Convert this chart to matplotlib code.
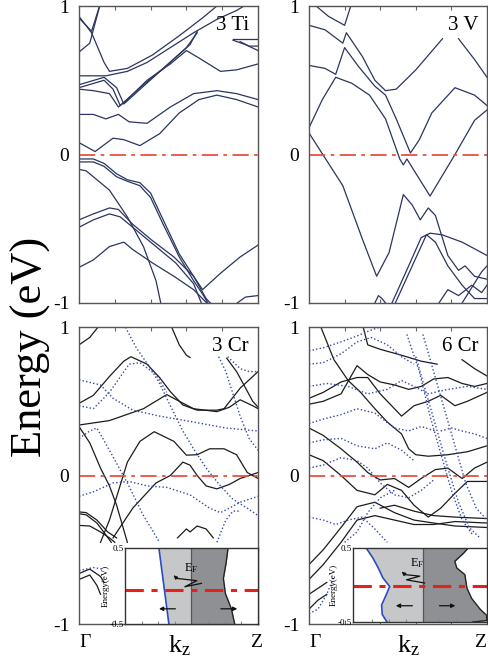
import matplotlib
matplotlib.use("Agg")
import matplotlib.pyplot as plt

plt.rcParams['font.family'] = ['Liberation Serif', 'DejaVu Serif']
plt.rcParams['mathtext.fontset'] = 'custom'
plt.rcParams['mathtext.rm'] = 'Liberation Serif'
plt.rcParams['mathtext.it'] = 'Liberation Serif:italic'

# ---------------------- Data (k along Gamma-Z, energy in eV) ---------------------- #
ti_bands = [
    [(0, -0.03), (0.08, -0.03), (0.14, -0.06), (0.21, -0.13), (0.27, -0.17), (0.34, -0.19), (0.40, -0.26),
     (0.47, -0.44), (0.56, -0.67), (0.64, -0.82), (0.69, -0.91), (0.79, -0.80), (0.90, -0.69), (1.0, -0.61)],
    [(0, -0.05), (0.08, -0.05), (0.14, -0.08), (0.21, -0.15), (0.27, -0.18), (0.34, -0.21), (0.40, -0.29),
     (0.47, -0.47), (0.56, -0.69), (0.64, -0.85), (0.69, -0.94), (0.73, -1.02)],
    [(0, -0.10), (0.04, -0.11), (0.17, -0.24), (0.27, -0.42), (0.36, -0.62), (0.43, -0.85), (0.46, -1.02)],
    [(0, -0.44), (0.08, -0.40), (0.17, -0.36), (0.22, -0.37), (0.30, -0.47), (0.41, -0.58), (0.53, -0.69),
     (0.64, -0.82), (0.71, -0.97), (0.75, -1.02)],
    [(0, -0.49), (0.08, -0.44), (0.17, -0.40), (0.23, -0.42), (0.32, -0.51), (0.43, -0.62), (0.54, -0.73),
     (0.64, -0.87), (0.69, -1.02)],
    [(0, -0.76), (0.08, -0.71), (0.17, -0.62), (0.25, -0.59), (0.30, -0.64), (0.41, -0.73), (0.53, -0.82),
     (0.64, -0.91), (0.73, -1.02)],
    [(0.86, -1.02), (0.93, -0.96), (1.0, -0.95)],
    [(0, 0.08), (0.09, 0.02), (0.19, 0.11), (0.25, 0.10), (0.34, 0.06), (0.45, 0.14), (0.56, 0.28),
     (0.67, 0.37), (0.77, 0.40), (0.88, 0.37), (1.0, 0.32)],
    [(0, 0.27), (0.08, 0.27), (0.15, 0.24), (0.22, 0.27), (0.28, 0.22), (0.38, 0.21), (0.51, 0.32),
     (0.64, 0.41), (0.77, 0.43), (0.88, 0.41), (1.0, 0.37)],
    [(0, 0.44), (0.08, 0.43), (0.17, 0.41), (0.22, 0.32), (0.27, 0.37), (0.38, 0.50), (0.51, 0.61),
     (0.60, 0.70), (0.67, 0.65), (0.79, 0.56), (0.88, 0.57), (1.0, 0.61)],
    [(0, 0.45), (0.14, 0.50), (0.19, 0.44), (0.23, 0.33), (0.34, 0.45), (0.47, 0.58), (0.60, 0.72), (0.66, 0.82)],
    [(0, 0.47), (0.14, 0.52), (0.21, 0.45), (0.25, 0.34), (0.36, 0.46), (0.49, 0.60), (0.62, 0.74), (0.66, 0.83)],
    [(0, 0.53), (0.15, 0.53), (0.27, 0.56), (0.38, 0.62), (0.51, 0.72), (0.64, 0.82), (0.77, 0.91),
     (0.88, 0.97), (0.95, 1.02)],
    [(0, 0.93), (0.07, 0.82), (0.14, 0.62), (0.17, 0.56), (0.27, 0.58), (0.41, 0.67), (0.56, 0.80),
     (0.69, 0.92), (0.79, 1.02)],
    [(0, 0.92), (0.07, 0.83), (0.12, 1.02)],
    [(0, 0.69), (0.06, 0.75), (0.12, 1.02)],
    [(0.86, 0.78), (0.93, 0.78), (1.0, 0.78)],
    [(0.86, 0.77), (0.93, 0.74), (1.0, 0.70)],
    [(0.90, 0.76), (0.95, 0.73), (1.0, 0.73)],
]

v_bands = [
    [(0.04, 1.0), (0.11, 0.93), (0.20, 0.87), (0.24, 1.02)],
    [(0, 0.87), (0.09, 0.84), (0.19, 0.75), (0.21, 0.82), (0.30, 0.66), (0.37, 0.50), (0.43, 0.43),
     (0.49, 0.44), (0.60, 0.57), (0.75, 0.78)],
    [(0, 0.60), (0.09, 0.58), (0.15, 0.54), (0.20, 0.72), (0.28, 0.59), (0.37, 0.46), (0.43, 0.40),
     (0.49, 0.24), (0.57, 0.01), (0.62, 0.10), (0.69, 0.28), (0.82, 0.45), (0.93, 0.40), (1.0, 0.33)],
    [(0.84, 0.78), (0.93, 0.64), (1.0, 0.52)],
    [(0, 0.18), (0.075, 0.37), (0.15, 0.52), (0.24, 0.48), (0.34, 0.40), (0.43, 0.24), (0.51, -0.03),
     (0.53, -0.07), (0.55, -0.03), (0.68, -0.28), (0.82, 0.0), (0.93, 0.23), (1.0, 0.30)],
    [(0, 0.145), (0.19, -0.21), (0.30, -0.57), (0.38, -0.82), (0.45, -0.66), (0.53, -0.27), (0.58, -0.34),
     (0.625, -0.44), (0.67, -0.36), (0.71, -0.41), (0.78, -0.68), (0.84, -0.78), (0.877, -0.75),
     (0.93, -0.82), (1.0, -0.84)],
    [(0.466, -1.0), (0.56, -0.75), (0.63, -0.56), (0.68, -0.53), (0.746, -0.54), (0.86, -0.59), (1.0, -0.68)],
    [(0.485, -1.0), (0.58, -0.75), (0.66, -0.54), (0.71, -0.59), (0.78, -0.75), (0.86, -0.88),
     (0.93, -0.97), (1.0, -0.97)],
    [(0.37, -1.0), (0.39, -0.95), (0.41, -0.97), (0.43, -1.0)],
    [(0.73, -1.0), (0.78, -0.91), (0.84, -0.95), (0.914, -0.88), (0.97, -0.93), (1.0, -0.88)],
    [(0.86, -1.0), (0.97, -0.79), (1.0, -0.75)],
]

cr3_solid = [
    [(0, 0.88), (0.06, 0.93), (0.12, 1.02)],
    [(0.51, 1.02), (0.56, 0.88), (0.60, 0.81), (0.62, 0.795)],
    [(0, 0.486), (0.08, 0.54), (0.17, 0.667), (0.25, 0.77), (0.29, 0.80), (0.38, 0.75), (0.45, 0.66),
     (0.51, 0.565), (0.58, 0.475), (0.66, 0.44), (0.77, 0.44), (0.81, 0.45), (0.90, 0.588), (1.0, 0.70)],
    [(0.825, 0.79), (0.88, 0.70), (0.93, 0.59), (0.97, 0.50), (1.0, 0.46)],
    [(0, 0.34), (0.17, 0.37), (0.36, 0.45), (0.49, 0.545), (0.56, 0.50), (0.64, 0.45), (0.77, 0.43),
     (0.84, 0.46), (0.90, 0.51), (0.97, 0.47), (1.0, 0.45)],
    [(0, 0.33), (0.06, 0.22), (0.12, 0.05), (0.17, -0.07), (0.21, -0.20), (0.27, -0.45)],
    [(0.12, -0.45), (0.17, -0.30), (0.27, 0.09), (0.34, 0.23), (0.42, 0.295), (0.53, 0.23), (0.60, 0.137),
     (0.66, 0.14), (0.73, 0.18), (0.81, 0.18), (0.88, 0.14), (0.94, 0.02), (1.0, -0.02)],
    [(0.19, -0.42), (0.30, -0.22), (0.43, -0.05), (0.51, 0.0), (0.58, 0.09), (0.62, 0.07), (0.66, 0.0),
     (0.71, -0.07), (0.77, -0.09), (0.84, -0.06), (0.90, -0.02), (0.95, 0.0), (1.0, 0.02)],
    [(0, -0.245), (0.04, -0.25), (0.10, -0.30), (0.16, -0.38), (0.21, -0.42)],
    [(0, -0.257), (0.04, -0.265), (0.10, -0.32), (0.15, -0.40), (0.18, -0.45)],
    [(0, -0.336), (0.06, -0.34), (0.12, -0.38), (0.17, -0.42), (0.20, -0.45)],
    [(0.55, -0.42), (0.60, -0.36), (0.62, -0.38), (0.66, -0.34), (0.71, -0.36), (0.75, -0.42)],
    [(0, -0.66), (0.06, -0.63), (0.12, -0.68), (0.14, -0.72)],
    [(0, -0.70), (0.06, -0.67), (0.10, -0.74), (0.12, -0.80)],
]

cr3_dotted = [
    [(0.25, 1.02), (0.32, 0.86), (0.40, 0.72), (0.45, 0.62), (0.51, 0.47), (0.58, 0.30), (0.64, 0.18),
     (0.71, 0.05), (0.79, -0.07), (0.86, -0.16), (0.94, -0.22), (1.0, -0.27)],
    [(0, 0.644), (0.12, 0.61), (0.19, 0.52), (0.30, 0.44), (0.45, 0.40), (0.64, 0.36), (0.82, 0.32), (1.0, 0.30)],
    [(0, 0.47), (0.08, 0.45), (0.17, 0.56), (0.28, 0.75), (0.34, 0.76), (0.43, 0.68), (0.49, 0.56)],
    [(0, 0.25), (0.06, 0.30), (0.10, 0.32), (0.17, 0.17), (0.27, -0.05), (0.36, -0.27), (0.45, -0.45)],
    [(0, -0.14), (0.08, -0.11), (0.19, -0.05), (0.28, -0.04), (0.38, -0.07), (0.49, -0.08), (0.62, -0.13),
     (0.73, -0.22), (0.79, -0.25), (0.84, -0.22), (0.90, -0.18), (1.0, -0.14)],
    [(0.78, 0.80), (0.82, 0.70), (0.86, 0.55), (0.90, 0.40), (0.95, 0.25), (1.0, 0.17)],
    [(0.83, 0.80), (0.90, 0.72), (0.95, 0.70), (1.0, 0.70)],
    [(0.77, -0.45), (0.82, -0.30), (0.86, -0.24), (0.90, -0.24)],
    [(0, -0.64), (0.08, -0.62), (0.13, -0.63)],
]

cr6_solid = [
    [(0.06, 1.02), (0.14, 0.78), (0.22, 0.64), (0.29, 0.56), (0.37, 0.45), (0.44, 0.36), (0.52, 0.28),
     (0.56, 0.18), (0.60, 0.14), (0.67, 0.13), (0.78, 0.14), (0.89, 0.16), (1.0, 0.20)],
    [(0.30, 1.02), (0.33, 0.88), (0.40, 0.85), (0.52, 0.81), (0.63, 0.77), (0.72, 0.75)],
    [(0, 0.52), (0.08, 0.56), (0.18, 0.63), (0.27, 0.66), (0.33, 0.66), (0.40, 0.55), (0.48, 0.45),
     (0.52, 0.40), (0.59, 0.47), (0.67, 0.50), (0.74, 0.54), (0.82, 0.47), (0.89, 0.50), (1.0, 0.56)],
    [(0, 0.48), (0.08, 0.50), (0.18, 0.55), (0.27, 0.74), (0.33, 0.68), (0.40, 0.63), (0.48, 0.61),
     (0.56, 0.58), (0.63, 0.60), (0.70, 0.65), (0.78, 0.66), (0.86, 0.62), (0.93, 0.60), (1.0, 0.62)],
    [(0, 0.32), (0.08, 0.27), (0.18, 0.18), (0.27, 0.09), (0.33, 0.02), (0.40, -0.03), (0.48, -0.02),
     (0.56, -0.08), (0.63, -0.02), (0.71, 0.04), (0.78, 0.05), (0.86, -0.02), (0.93, 0.05), (1.0, 0.09)],
    [(0, 0.14), (0.08, 0.10), (0.18, 0.0), (0.27, -0.10), (0.37, -0.13), (0.44, -0.06), (0.52, -0.10),
     (0.59, -0.20), (0.67, -0.28), (0.74, -0.22), (0.82, -0.12), (0.89, -0.04), (1.0, -0.04)],
    [(0, -0.70), (0.08, -0.60), (0.18, -0.45), (0.27, -0.30), (0.37, -0.27), (0.48, -0.30), (0.59, -0.33),
     (0.70, -0.33), (0.82, -0.31), (1.0, -0.32)],
    [(0, -0.60), (0.08, -0.50), (0.18, -0.35), (0.27, -0.21), (0.37, -0.18), (0.48, -0.25), (0.59, -0.30),
     (0.70, -0.32), (0.82, -0.34), (1.0, -0.35)],
    [(0.40, -0.22), (0.48, -0.20), (0.59, -0.24), (0.70, -0.27), (0.82, -0.28), (1.0, -0.29)],
    [(0.86, 0.78), (0.93, 0.72), (1.0, 0.67)],
    [(0, -0.90), (0.05, -0.84), (0.10, -0.80)],
    [(0, -0.80), (0.05, -0.76), (0.10, -0.72)],
]

cr6_dotted = [
    [(0, 0.84), (0.08, 0.86), (0.18, 0.90), (0.27, 0.94), (0.35, 0.98), (0.40, 1.0)],
    [(0, 0.75), (0.08, 0.76), (0.18, 0.82), (0.27, 0.90), (0.35, 0.93), (0.44, 0.88), (0.52, 0.80), (0.59, 0.75)],
    [(0, 0.60), (0.10, 0.62), (0.22, 0.60), (0.33, 0.55), (0.44, 0.58), (0.52, 0.64), (0.59, 0.60),
     (0.67, 0.55), (0.78, 0.58), (0.89, 0.60), (1.0, 0.58)],
    [(0, 0.35), (0.08, 0.38), (0.18, 0.41), (0.27, 0.45), (0.37, 0.42), (0.48, 0.32), (0.56, 0.30),
     (0.63, 0.33), (0.71, 0.30)],
    [(0, 0.22), (0.08, 0.24), (0.18, 0.25), (0.27, 0.20), (0.37, 0.18), (0.44, 0.22), (0.52, 0.17), (0.59, 0.10)],
    [(0, 0.05), (0.08, 0.07), (0.18, 0.12), (0.27, 0.10), (0.33, 0.05), (0.40, -0.05), (0.48, -0.13),
     (0.56, -0.15), (0.63, -0.10), (0.70, -0.03)],
    [(0, -0.28), (0.08, -0.30), (0.15, -0.33), (0.22, -0.30), (0.30, -0.28), (0.37, -0.36), (0.44, -0.45)],
    [(0.55, 0.95), (0.62, 0.70), (0.68, 0.40), (0.74, 0.15), (0.80, -0.10), (0.86, -0.30), (0.92, -0.40)],
    [(0.60, 0.80), (0.66, 0.55), (0.72, 0.30), (0.78, 0.05), (0.84, -0.18), (0.90, -0.35), (0.96, -0.42)],
    [(0.64, 0.95), (0.70, 0.70), (0.76, 0.45), (0.82, 0.20), (0.88, -0.05), (0.94, -0.22), (1.0, -0.30)],
    [(0.20, -0.45), (0.27, -0.38), (0.33, -0.25), (0.40, -0.15), (0.48, -0.10)],
    [(0, -0.93), (0.05, -0.90), (0.10, -0.80), (0.14, -0.68)],
    [(0.74, 0.30), (0.80, 0.32), (0.86, 0.30), (0.93, 0.28), (1.0, 0.25)],
]

# inset DOS curves (x: DOS, y: energy)
inset3_e = [0.5, 0.3, 0.1, -0.1, -0.3, -0.5]
inset3_dn = [-0.49, -0.46, -0.43, -0.40, -0.37, -0.34]
inset3_up = [0.55, 0.52, 0.48, 0.51, 0.60, 0.65]
inset3_ef = -0.05

inset6_e_dn = [0.5, 0.365, 0.23, 0.095, -0.02, -0.13, -0.27, -0.40, -0.5]
inset6_dn = [-0.84, -0.74, -0.66, -0.59, -0.49, -0.54, -0.61, -0.60, -0.53]
inset6_e_up = [0.5, 0.43, 0.32, 0.23, 0.14, -0.04, -0.18, -0.33, -0.41, -0.48, -0.5]
inset6_up = [0.68, 0.61, 0.48, 0.51, 0.63, 0.66, 0.73, 0.86, 0.955, 0.955, 0.75]
inset6_ef = -0.02

NAVY = '#2b3560'
BLUE = '#3448a8'
RED = '#e8503f'


def draw_panel(ax, solid, dotted, color, label):
    for band in solid:
        ax.plot([p[0] for p in band], [p[1] for p in band], color=color, lw=0.9)
    for band in dotted:
        ax.plot([p[0] for p in band], [p[1] for p in band], color=BLUE, lw=1.0, ls=(0, (1, 1.6)))
    ax.axhline(0, color=RED, lw=1.3, dashes=(9, 3, 2, 3))
    ax.set_xlim(0, 1)
    ax.set_ylim(-1, 1)
    ax.set_xticks([0.2, 0.4, 0.6, 0.8])
    ax.set_xticklabels([])
    ax.tick_params(axis='x', direction='in', top=True, bottom=True, length=3, color='#666666')
    ax.set_yticks([-1, 0, 1])
    ax.set_yticklabels(['-1', '0', '1'], fontsize=14)
    ax.tick_params(axis='y', length=0, pad=7)
    for s in ax.spines.values():
        s.set_color('#555555')
        s.set_linewidth(1.0)
    ax.text(0.95, 0.965, label, transform=ax.transAxes, ha='right', va='top', fontsize=15)


def draw_kpath(ax, z_x):
    ax.text(0.0, -0.035, 'Γ', transform=ax.transAxes, ha='left', va='top', fontsize=14)
    ax.text(0.56, -0.03, r'$\mathrm{k_z}$', transform=ax.transAxes, ha='center', va='top', fontsize=19)
    ax.text(z_x, -0.035, 'Z', transform=ax.transAxes, ha='right', va='top', fontsize=14)


def draw_inset(ax, e_dn, dn, e_up, up, ef, xlim, ef_text, zig, arr_l, arr_r, ylabel):
    ax.fill_betweenx(e_dn, dn, 0, color='#c6c7c9', lw=0)
    ax.fill_betweenx(e_up, 0, up, color='#8e9093', lw=0)
    ax.plot(dn, e_dn, color='#2a4cc0', lw=1.2)
    ax.plot(up, e_up, color='#222222', lw=1.0)
    ax.axvline(0, color='#555555', lw=0.9)
    ax.axhline(ef, color='#e8201a', lw=2.2, dashes=(6, 2.5, 2, 2.5))
    ax.annotate('', xy=(arr_l[1], arr_l[2]), xytext=(arr_l[0], arr_l[2]),
                arrowprops=dict(arrowstyle='-|>', color='#111111', lw=0.9, mutation_scale=6))
    ax.annotate('', xy=(arr_r[1], arr_r[2]), xytext=(arr_r[0], arr_r[2]),
                arrowprops=dict(arrowstyle='-|>', color='#111111', lw=0.9, mutation_scale=6))
    ax.plot([p[0] for p in zig[:-1]], [p[1] for p in zig[:-1]], color='#111111', lw=0.9)
    ax.annotate('', xy=zig[-1], xytext=zig[-2],
                arrowprops=dict(arrowstyle='-|>', color='#111111', lw=0.9, mutation_scale=5))
    ax.text(ef_text[0], ef_text[1], r'$\mathrm{E_F}$', fontsize=9, ha='left', va='bottom')
    ax.set_xlim(*xlim)
    ax.set_ylim(-0.5, 0.5)
    ax.set_yticks([-0.5, 0.5])
    ax.set_yticklabels(['-0.5', '0.5'], fontsize=6.5)
    ax.tick_params(axis='y', length=0, pad=1)
    ax.set_xticks([-0.75, -0.5, -0.25, 0.25, 0.5, 0.75])
    ax.set_xticklabels([])
    ax.tick_params(axis='x', direction='in', length=2, color='#888888')
    ax.set_ylabel(ylabel, fontsize=6.5, labelpad=0)
    for s in ax.spines.values():
        s.set_color('#333333')
        s.set_linewidth(1.0)


# ---------------------- Figure ---------------------- #
fig = plt.figure(figsize=(4.89, 6.62), dpi=100)

ax_ti = fig.add_axes([0.1616, 0.5423, 0.3661, 0.4486])
ax_v = fig.add_axes([0.6319, 0.5423, 0.3640, 0.4486])
ax_c3 = fig.add_axes([0.1616, 0.0574, 0.3661, 0.4486])
ax_c6 = fig.add_axes([0.6319, 0.0574, 0.3640, 0.4486])

draw_panel(ax_ti, ti_bands, [], NAVY, '3 Ti')
draw_panel(ax_v, v_bands, [], NAVY, '3 V')
draw_panel(ax_c3, cr3_solid, cr3_dotted, '#1c1c1c', '3 Cr')
draw_panel(ax_c6, cr6_solid, cr6_dotted, '#1c1c1c', '6 Cr')
draw_kpath(ax_c3, 1.02)
draw_kpath(ax_c6, 0.995)

in3 = fig.add_axes([0.2556, 0.0574, 0.2720, 0.1148])
draw_inset(in3, inset3_e, inset3_dn, inset3_e, inset3_up, inset3_ef, (-1, 1),
           (-0.12, 0.14),
           [(0.15, 0.035), (-0.10, -0.01), (0.08, 0.07), (-0.22, 0.10), (-0.27, 0.14)],
           (-0.2, -0.53, -0.30), (0.40, 0.73, -0.30), 'Energy(eV)')

in6 = fig.add_axes([0.7219, 0.0604, 0.2741, 0.1118])
draw_inset(in6, inset6_e_dn, inset6_dn, inset6_e_up, inset6_up, inset6_ef, (-1.036, 0.96),
           (-0.18, 0.2),
           [(0.03, 0.027), (-0.24, 0.07), (-0.04, 0.12), (-0.26, 0.14), (-0.31, 0.18)],
           (-0.11, -0.44, -0.28), (0.21, 0.53, -0.28), 'Energy(eV)')

fig.text(0.062, 0.476, 'Energy (eV)', rotation=90, fontsize=32, ha='center', va='center')

fig.savefig('out.png', dpi=100)
